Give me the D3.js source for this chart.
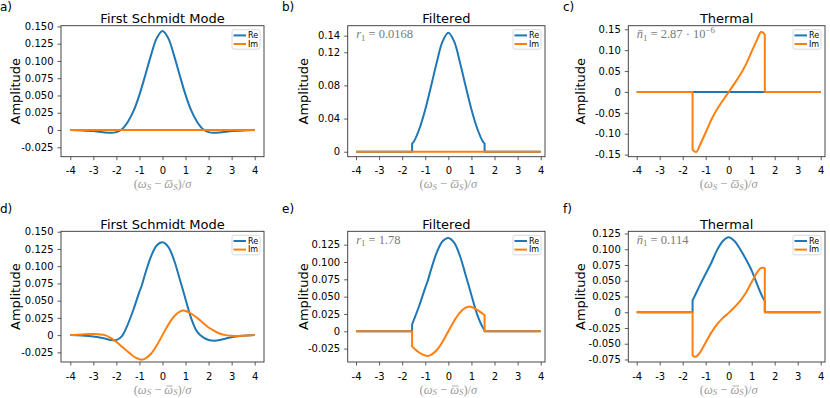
<!DOCTYPE html>
<html>
<head>
<meta charset="utf-8">
<script src="https://cdn.jsdelivr.net/npm/d3@7"></script>
<style>
body { margin: 0; background: #fff; }
svg text { font-family: "DejaVu Sans", sans-serif; }
.math { font-family: "Liberation Serif", "DejaVu Serif", serif; }
</style>
</head>
<body>
<svg id="chart" width="830" height="398"></svg>
<script>
// ---- data ----
var filterEdge = 1.57;
var xTicks = [-4, -3, -2, -1, 0, 1, 2, 3, 4];

// flat zero series (Im of the first row, Re of the thermal case)
var xFlat = [-4, 4];
var flatZero = [0, 0];

// first Schmidt mode, top row (real part only)
var xModeTop = [-4, -3.5, -3, -2.75, -2.5, -2.25, -2, -1.75, -1.5, -1.25, -1, -0.75, -0.5, -0.25, 0,
                0.25, 0.5, 0.75, 1, 1.25, 1.5, 1.75, 2, 2.25, 2.5, 2.75, 3, 3.5, 4];
var reModeTop = [0, -0.0005, -0.0015, -0.0025, -0.0035, -0.004, -0.003, 0.0015, 0.012, 0.028, 0.051, 0.079, 0.108, 0.133, 0.1435,
                 0.133, 0.108, 0.079, 0.051, 0.028, 0.012, 0.0015, -0.003, -0.004, -0.0035, -0.0025, -0.0015, -0.0005, 0];

// filtered, top row
var xFiltTop = [-1.57, -1.5, -1.25, -1, -0.75, -0.5, -0.25, 0, 0.25, 0.5, 0.75, 1, 1.25, 1.5, 1.57];
var reFiltTop = [0.01, 0.012, 0.028, 0.051, 0.079, 0.108, 0.133, 0.1435, 0.133, 0.108, 0.079, 0.051, 0.028, 0.012, 0.01];

// thermal, top row (imaginary part)
var xThermTop = [-1.57, -1.5, -1.4, -1.25, -1, -0.75, -0.5, -0.25, 0, 0.25, 0.5, 0.75, 1, 1.25, 1.4, 1.5, 1.57];
var imThermTop = [-0.137, -0.142, -0.1435, -0.127, -0.097, -0.066, -0.041, -0.02, 0, 0.02, 0.041, 0.066, 0.097, 0.127, 0.1435, 0.142, 0.137];

// first Schmidt mode, bottom row
var xModeBot = [-4, -3.5, -3, -2.5, -2.25, -2, -1.75, -1.5, -1.25, -1, -0.9, -0.75, -0.5, -0.25, 0,
                0.25, 0.5, 0.75, 0.9, 1, 1.25, 1.5, 1.75, 2, 2.25, 2.5, 2.75, 3, 3.5, 4];
var reModeBot = [0, -0.0005, -0.002, -0.005, -0.007, -0.0072, -0.001, 0.016, 0.038, 0.063, 0.072, 0.089, 0.114, 0.13, 0.1346,
                 0.128, 0.109, 0.081, 0.064, 0.052, 0.024, 0.005, -0.003, -0.007, -0.008, -0.007, -0.005, -0.003, -0.001, 0];
var imModeBot = [0, 0.001, 0.0015, 0, -0.004, -0.01, -0.017, -0.024, -0.031, -0.035, -0.0356, -0.034, -0.027, -0.015, 0,
                 0.015, 0.027, 0.034, 0.0356, 0.035, 0.031, 0.025, 0.018, 0.011, 0.006, 0.002, 0, -0.001, -0.001, 0];

// filtered, bottom row
var xFiltBot = [-1.57, -1.5, -1.25, -1, -0.9, -0.75, -0.5, -0.25, 0, 0.25, 0.5, 0.75, 0.9, 1, 1.25, 1.5, 1.57];
var reFiltBot = [0.01, 0.016, 0.038, 0.063, 0.072, 0.089, 0.114, 0.13, 0.1346, 0.128, 0.109, 0.081, 0.064, 0.052, 0.024, 0.005, 0.002];
var imFiltBot = [-0.022, -0.024, -0.031, -0.035, -0.0356, -0.034, -0.027, -0.015, 0, 0.015, 0.027, 0.034, 0.0356, 0.035, 0.031, 0.025, 0.0235];

// thermal, bottom row
var xThermReBot = [-1.57, -1.5, -1.25, -1, -0.75, -0.5, -0.25, 0, 0.25, 0.5, 0.75, 1, 1.25, 1.5, 1.57];
var reThermBot = [0.019, 0.024, 0.043, 0.061, 0.079, 0.099, 0.113, 0.119, 0.113, 0.1, 0.084, 0.066, 0.043, 0.022, 0.018];
var xThermImBot = [-1.57, -1.5, -1.4, -1.25, -1, -0.75, -0.5, -0.25, 0, 0.25, 0.5, 0.75, 1, 1.25, 1.4, 1.5, 1.57];
var imThermBot = [-0.068, -0.0705, -0.07, -0.064, -0.048, -0.032, -0.019, -0.009, -0.001, 0.008, 0.018, 0.031, 0.048, 0.064, 0.07, 0.0705, 0.0695];

// y tick values per panel
var yTicksMode = [-0.025, 0, 0.025, 0.05, 0.075, 0.1, 0.125, 0.15];
var yTicksFiltTop = [0, 0.04, 0.08, 0.12, 0.14];
var yTicksThermTop = [-0.15, -0.1, -0.05, 0, 0.05, 0.1, 0.15];
var yTicksFiltBot = [-0.025, 0, 0.025, 0.05, 0.075, 0.1, 0.125];
var yTicksThermBot = [-0.075, -0.05, -0.025, 0, 0.025, 0.05, 0.075, 0.1, 0.125];

var seriesNames = ["Re", "Im"];
var seriesColors = ["#1f77b4", "#ff7f0e"];

// ---- layout ----
var cols = [
    {left: 61, right: 264, xDomain: [-4.403, 4.404], label: 0, ylab: 19.5},
    {left: 347.7, right: 545, xDomain: [-4.36, 4.186], label: 282, ylab: 307.5},
    {left: 628.3, right: 825, xDomain: [-4.365, 4.187], label: 563, ylab: 584.5}
];
var rows = [
    {top: 25.7, bottom: 156.7, label: 11},
    {top: 231.3, bottom: 362, label: 213}
];

var panels = [
    {tag: "a)", title: "First Schmidt Mode", col: 0, row: 0, yDomain: [-0.0386, 0.151], yTicks: yTicksMode, fmt: ".3f",
     re: {x: xModeTop, y: reModeTop}, im: {x: xFlat, y: flatZero}},
    {tag: "b)", title: "Filtered", col: 1, row: 0, yDomain: [-0.006, 0.152], yTicks: yTicksFiltTop, fmt: ".2f",
     re: {x: xFiltTop, y: reFiltTop, cut: true}, im: {x: xFlat, y: flatZero},
     note: [{t: "r", i: true}, {t: "1", sub: true}, {t: " = 0.0168"}]},
    {tag: "c)", title: "Thermal", col: 2, row: 0, yDomain: [-0.155, 0.1586], yTicks: yTicksThermTop, fmt: ".2f",
     re: {x: xFlat, y: flatZero}, im: {x: xThermTop, y: imThermTop, cut: true},
     note: [{t: "n", i: true, bar: true}, {t: "1", sub: true}, {t: " = 2.87 \u00b7 10"}, {t: "\u22126", sup: true}]},
    {tag: "d)", title: "First Schmidt Mode", col: 0, row: 1, yDomain: [-0.039, 0.1506], yTicks: yTicksMode, fmt: ".3f",
     re: {x: xModeBot, y: reModeBot}, im: {x: xModeBot, y: imModeBot}},
    {tag: "e)", title: "Filtered", col: 1, row: 1, yDomain: [-0.0443, 0.1443], yTicks: yTicksFiltBot, fmt: ".3f",
     re: {x: xFiltBot, y: reFiltBot, cut: true}, im: {x: xFiltBot, y: imFiltBot, cut: true},
     note: [{t: "r", i: true}, {t: "1", sub: true}, {t: " = 1.78"}]},
    {tag: "f)", title: "Thermal", col: 2, row: 1, yDomain: [-0.079, 0.1285], yTicks: yTicksThermBot, fmt: ".3f",
     re: {x: xThermReBot, y: reThermBot, cut: true}, im: {x: xThermImBot, y: imThermBot, cut: true},
     note: [{t: "n", i: true, bar: true}, {t: "1", sub: true}, {t: " = 0.114"}]}
];

var xLabelParts = [{t: "("}, {t: "\u03c9", i: true}, {t: "S", i: true, sub: true}, {t: " \u2212 "},
                   {t: "\u03c9", i: true, bar: true}, {t: "S", i: true, sub: true}, {t: ")/"}, {t: "\u03c3", i: true}];

var svg = d3.select("#chart");

// writes a small mathtext-like label using tspans, bars drawn as lines
function mathText(parent, sel, parts, size, color, subShift) {
    var shift = 0, idx = 0, bars = [];
    sel.attr("fill", color);
    parts.forEach(function(p) {
        var want = p.sub ? subShift * size : (p.sup ? -0.4 * size : 0);
        var ts = sel.append("tspan").text(p.t)
            .attr("font-size", (p.sub || p.sup) ? size * 0.7 : size)
            .attr("font-style", p.i ? "italic" : "normal");
        if (want !== shift) { ts.attr("dy", want - shift); shift = want; }
        if (p.bar) bars.push(idx);
        idx += p.t.length;
    });
    bars.forEach(function(k) {
        var node = sel.node();
        var pos = node.getStartPositionOfChar(k);
        var box = node.getExtentOfChar(k);
        var yb = pos.y - 0.6 * size;
        parent.append("line")
            .attr("x1", box.x + box.width * 0.22).attr("x2", box.x + box.width * 0.95)
            .attr("y1", yb).attr("y2", yb)
            .attr("stroke", color).attr("stroke-width", 0.8);
    });
}

panels.forEach(function(p) {
    var c = cols[p.col], r = rows[p.row];
    var x = d3.scaleLinear().domain(c.xDomain).range([c.left, c.right]);
    var y = d3.scaleLinear().domain(p.yDomain).range([r.bottom, r.top]);
    var g = svg.append("g");

    var straight = d3.line().x(function(d) { return x(d[0]); }).y(function(d) { return y(d[1]); });
    var smooth = d3.line().x(function(d) { return x(d[0]); }).y(function(d) { return y(d[1]); })
        .curve(d3.curveCatmullRom.alpha(0.5));

    function pathFor(s) {
        var pts = s.x.map(function(v, i) { return [v, s.y[i]]; });
        if (!s.cut) return smooth(pts);
        // zero outside the filter window, vertical jump at its edges
        var left = straight([[-4, 0], [-filterEdge, 0]]);
        var right = straight([[filterEdge, 0], [4, 0]]).replace(/^M/, "L");
        return left + smooth(pts).replace(/^M/, "L") + right;
    }

    [p.re, p.im].forEach(function(s, i) {
        g.append("path")
            .attr("d", pathFor(s))
            .attr("fill", "none")
            .attr("stroke", seriesColors[i])
            .attr("stroke-width", 2)
            .attr("stroke-linejoin", "round");
    });

    // axes
    var xa = g.append("g")
        .attr("transform", "translate(0," + r.bottom + ")")
        .call(d3.axisBottom(x).tickValues(xTicks).tickFormat(function(d) { return String(d); })
            .tickSize(3.5).tickPadding(7));
    var fmt = d3.format(p.fmt);
    var ya = g.append("g")
        .attr("transform", "translate(" + c.left + ",0)")
        .call(d3.axisLeft(y).tickValues(p.yTicks)
            .tickFormat(function(d) { return d === 0 ? "0" : fmt(d).replace("\u2212", "-"); })
            .tickSize(3.5).tickPadding(4));
    [xa, ya].forEach(function(a) {
        a.select(".domain").remove();
        a.attr("font-family", "DejaVu Sans").attr("font-size", 10).attr("color", "#000");
        a.selectAll("line").attr("stroke", "#333").attr("stroke-width", 0.8);
    });

    g.append("rect")
        .attr("x", c.left).attr("y", r.top)
        .attr("width", c.right - c.left).attr("height", r.bottom - r.top)
        .attr("fill", "none").attr("stroke", "#333").attr("stroke-width", 0.9);

    // titles and labels
    g.append("text")
        .attr("x", (c.left + c.right) / 2).attr("y", r.top - 2.3)
        .attr("text-anchor", "middle").attr("font-size", 13)
        .text(p.title);
    g.append("text")
        .attr("x", c.label).attr("y", r.label)
        .attr("font-size", 12)
        .text(p.tag);
    g.append("text")
        .attr("transform", "translate(" + c.ylab + "," + (r.top + r.bottom) / 2 + ") rotate(-90)")
        .attr("text-anchor", "middle").attr("font-size", 13)
        .text("Amplitude");
    var xl = g.append("text").attr("class", "math")
        .attr("x", x(0)).attr("y", r.bottom + 31.5)
        .attr("text-anchor", "middle");
    mathText(g, xl, xLabelParts, 12.5, "#9a9a9a", 0.15);

    if (p.note) {
        var nt = g.append("text").attr("class", "math")
            .attr("x", c.left + 8.5).attr("y", r.top + 12.5);
        mathText(g, nt, p.note, 12.5, "#7a7a7a", 0.2);
    }

    // legend
    var lw = 28, lh = 19.5;
    var lx = c.right - 4 - lw, ly = r.top + 4;
    var lg = g.append("g").attr("transform", "translate(" + lx + "," + ly + ")");
    lg.append("rect").attr("width", lw).attr("height", lh).attr("rx", 2)
        .attr("fill", "#fff").attr("fill-opacity", 0.8)
        .attr("stroke", "#d0d0d0").attr("stroke-width", 0.8);
    seriesNames.forEach(function(name, i) {
        var yy = 5.7 + i * 8.6;
        lg.append("line").attr("x1", 1.5).attr("x2", 14).attr("y1", yy).attr("y2", yy)
            .attr("stroke", seriesColors[i]).attr("stroke-width", 2);
        lg.append("text").attr("x", 16).attr("y", yy).attr("dy", "0.35em")
            .attr("font-size", 8).text(name);
    });
});
</script>
</body>
</html>
